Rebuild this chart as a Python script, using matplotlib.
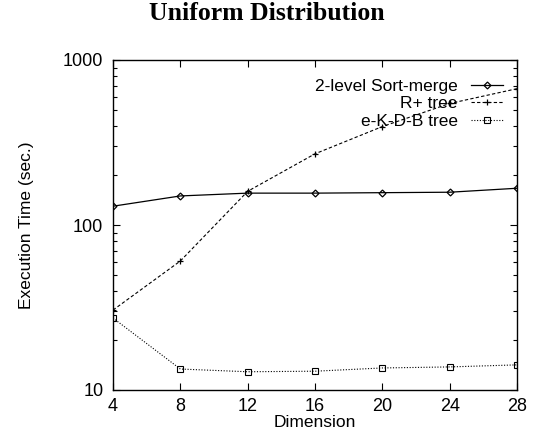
import matplotlib
matplotlib.use("Agg")
import matplotlib.pyplot as plt
from matplotlib.ticker import FixedLocator, FixedFormatter, LogLocator, NullFormatter

dims = [4, 8, 12, 16, 20, 24, 28]
sort_merge = [130, 150, 156, 156, 157, 158, 167]
rplus = [30.5, 60.5, 160, 270, 395, 545, 670]
ekdb = [27.3, 13.4, 12.9, 13.0, 13.6, 13.8, 14.2]
labels = ["2-level Sort-merge", "R+ tree", "e-K-D-B tree"]

plt.rcParams['font.family'] = ['Liberation Sans', 'DejaVu Sans']

fig = plt.figure(figsize=(5.34, 4.42), dpi=100)
ax = fig.add_axes([113/534, 1-390/442, (517-113)/534, (390-60)/442])

ax.plot(dims, sort_merge, color='black', lw=0.9, ls='-', marker='D', ms=3.5,
        mfc='none', mec='black', mew=0.9, label=labels[0])
ax.plot(dims, rplus, color='black', lw=0.8, ls=(0, (3, 2)), marker='+', ms=4,
        mew=0.9, label=labels[1])
ax.plot(dims, ekdb, color='black', lw=0.8, ls=(0, (1, 1.5)), marker='s', ms=4,
        mfc='none', mec='black', mew=0.8, label=labels[2])

ax.set_yscale('log')
ax.set_xlim(4, 28)
ax.set_ylim(10, 1000)
ax.set_xticks(dims)
ax.set_xticklabels([str(d) for d in dims])
ax.yaxis.set_major_locator(FixedLocator([10, 100, 1000]))
ax.yaxis.set_major_formatter(FixedFormatter(['10', '100', '1000']))
ax.yaxis.set_minor_locator(LogLocator(base=10, subs=range(2, 10)))
ax.yaxis.set_minor_formatter(NullFormatter())

ax.tick_params(which='both', direction='in', top=True, right=True, labelsize=13)
ax.tick_params(axis='x', pad=6)
ax.tick_params(axis='y', pad=7)
ax.tick_params(which='major', length=5, width=0.8)
ax.tick_params(which='minor', length=3, width=0.8)
for s in ax.spines.values():
    s.set_linewidth(1.0)

ax.set_xlabel('Dimension', fontsize=12.5, labelpad=0)
ax.set_ylabel('Execution Time (sec.)', fontsize=12.5, labelpad=21)
fig.text(0.5, 1 - 14/442, 'Uniform Distribution', ha='center', va='center',
         fontsize=18.5, fontweight='bold', family=['Liberation Serif', 'DejaVu Serif'])

leg = ax.legend(loc='upper right', frameon=False, markerfirst=False, fontsize=12.5,
                handlelength=1.85, handletextpad=0.75, labelspacing=0.12,
                borderpad=0, borderaxespad=0,
                bbox_to_anchor=(503/534, 1 - 79/442), bbox_transform=fig.transFigure)

fig.savefig('out.png', dpi=100)
